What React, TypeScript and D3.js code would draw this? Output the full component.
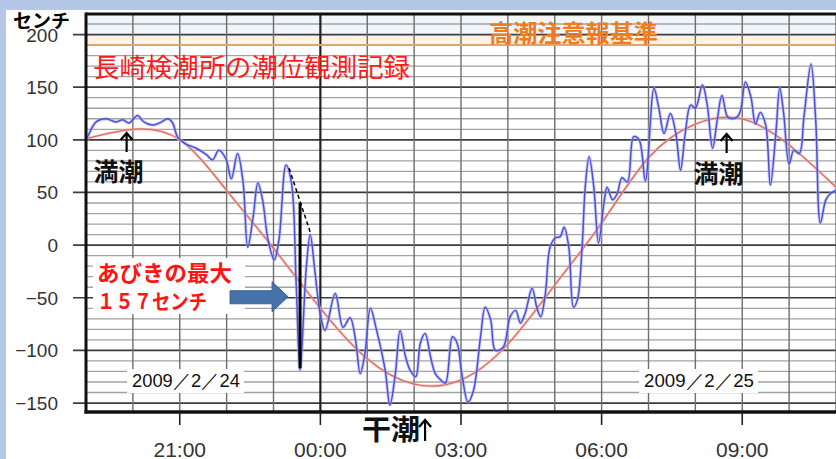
import React, { useEffect, useRef } from 'react';
import * as d3 from 'd3';

const WIDTH = 836;
const HEIGHT = 459;

const yTicks = [200, 150, 100, 50, 0, -50, -100, -150];
const xTickLabels = ['21:00', '00:00', '03:00', '06:00', '09:00'];
const warningLevel = 190;

// astronomical tide, hourly from 19:00 (2/24) to 11:00 (2/25)
const predictedTimes = [
  '19:00', '20:00', '21:00', '22:00', '23:00', '00:00', '01:00', '02:00', '03:00',
  '04:00', '05:00', '06:00', '07:00', '08:00', '09:00', '10:00', '11:00',
];
const predictedLevels = [101, 110, 100, 52, -3, -60, -108, -132, -128, -94, -38, 21, 83, 115, 120, 95, 55];

// observed tide level (cm)
const observed: [string, number][] = [
  ['19:00', 101], ['19:02', 103], ['19:13', 117], ['19:26', 120], ['19:38', 117], ['19:47', 119],
  ['19:55', 116], ['20:06', 123], ['20:14', 117], ['20:25', 114], ['20:34', 116], ['20:45', 120],
  ['20:51', 116], ['20:57', 103], ['21:08', 96], ['21:21', 92], ['21:34', 86], ['21:42', 81],
  ['21:50', 90], ['21:59', 82], ['22:06', 63], ['22:14', 87], ['22:21', 60], ['22:27', -2],
  ['22:34', 27], ['22:40', 59], ['22:46', 43], ['22:53', 5], ['23:01', -14], ['23:07', 5],
  ['23:16', 76], ['23:23', 59], ['23:29', -36], ['23:34', -119], ['23:42', -21], ['23:47', 10],
  ['23:53', -25], ['00:00', -66], ['00:06', -81], ['00:19', -46], ['00:29', -78], ['00:38', -69],
  ['00:45', -90], ['00:51', -122], ['00:57', -103], ['01:04', -60], ['01:12', -81], ['01:23', -119],
  ['01:29', -152], ['01:36', -122], ['01:42', -81], ['01:49', -106], ['01:55', -119], ['02:02', -125],
  ['02:08', -93], ['02:14', -84], ['02:21', -106], ['02:27', -122], ['02:34', -128], ['02:40', -131],
  ['02:49', -87], ['02:55', -93], ['03:01', -122], ['03:09', -149], ['03:16', -138], ['03:25', -87],
  ['03:31', -59], ['03:38', -71], ['03:44', -100], ['03:54', -97], ['04:03', -68], ['04:10', -62],
  ['04:16', -74], ['04:22', -65], ['04:31', -41], ['04:37', -59], ['04:42', -68], ['04:48', -46],
  ['04:54', -2], ['05:01', 7], ['05:07', 8], ['05:12', 17], ['05:18', -2], ['05:24', -59],
  ['05:29', -52], ['05:35', -2], ['05:39', 55], ['05:44', 84], ['05:50', 55], ['05:56', 2],
  ['06:03', 40], ['06:07', 55], ['06:14', 43], ['06:20', 49], ['06:26', 64], ['06:33', 60],
  ['06:41', 103], ['06:48', 100], ['06:56', 61], ['07:07', 149], ['07:13', 131], ['07:20', 106],
  ['07:28', 125], ['07:35', 106], ['07:41', 71], ['07:47', 106], ['07:54', 133], ['08:00', 130],
  ['08:09', 152], ['08:15', 134], ['08:22', 92], ['08:28', 119], ['08:34', 142], ['08:41', 122],
  ['08:47', 120], ['08:54', 122], ['08:58', 128], ['09:04', 155], ['09:11', 141], ['09:17', 115],
  ['09:23', 126], ['09:30', 114], ['09:36', 57], ['09:43', 106], ['09:48', 149], ['09:53', 125],
  ['10:00', 77], ['10:06', 90], ['10:13', 87], ['10:19', 122], ['10:28', 172], ['10:34', 119],
  ['10:40', 21], ['10:47', 43], ['10:53', 49], ['11:00', 52],
];

// maximum seiche (abiki) marker
const abikiTime = '23:34';
const abikiRange: [number, number] = [40, -117];
const abikiSlope: [string, number][] = [['23:20', 73], ['23:48', 10]];

const highTideTimes = ['19:52', '08:40'];
const lowTideTime = '02:14';

const parseClock = (s: string) => {
  const [h, m] = s.split(':').map(Number);
  return new Date(2009, 1, h >= 19 ? 24 : 25, h, m);
};

const JP = '"Noto Sans CJK JP", "Noto Sans", sans-serif';
const NUM = '"Liberation Sans", Arial, sans-serif';

const TideChart: React.FC = () => {
  const svgRef = useRef<SVGSVGElement>(null);

  useEffect(() => {
    if (!svgRef.current) return;
    const svg = d3.select(svgRef.current);
    svg.selectAll('*').remove();

    const plot = { left: 86, right: 836, top: 14, bottom: 412 };

    const x = d3.scaleTime()
      .domain([new Date(2009, 1, 24, 19), new Date(2009, 1, 25, 11)])
      .range([plot.left, plot.right]);
    const y = d3.scaleLinear().domain([-158.5, 219.5]).range([plot.bottom, plot.top]);

    // page frame
    svg.append('rect').attr('width', WIDTH).attr('height', HEIGHT).attr('fill', '#b4c7e7');
    svg.append('rect').attr('x', 6).attr('y', 10).attr('width', WIDTH).attr('height', HEIGHT).attr('fill', '#fff');

    // faint bands near the top
    svg.append('rect')
      .attr('x', plot.left).attr('y', plot.top)
      .attr('width', plot.right - plot.left).attr('height', y(200) - plot.top)
      .attr('fill', '#f1f6fb');
    svg.append('rect')
      .attr('x', plot.left).attr('y', y(200))
      .attr('width', plot.right - plot.left).attr('height', y(warningLevel) - y(200))
      .attr('fill', '#fcf2e6');

    // horizontal grid every 10 cm
    const levels = d3.range(-150, 220, 10);
    svg.append('g').selectAll('line')
      .data(levels)
      .enter().append('line')
      .attr('x1', d => (d % 50 === 0 ? plot.left - 13 : plot.left))
      .attr('x2', plot.right)
      .attr('y1', d => y(d)).attr('y2', d => y(d))
      .attr('stroke', d => (d % 50 === 0 ? '#3c3c3c' : '#a2a2a2'))
      .attr('stroke-width', d => (d % 50 === 0 ? 1.7 : 1.3));

    // vertical grid every hour
    const hours = x.ticks(d3.timeHour.every(1) as any);
    svg.append('g').selectAll('line')
      .data(hours)
      .enter().append('line')
      .attr('x1', d => x(d)).attr('x2', d => x(d))
      .attr('y1', plot.top).attr('y2', plot.bottom)
      .attr('stroke', d => (d.getHours() === 0 ? '#222' : '#6e6e6e'))
      .attr('stroke-width', d => (d.getHours() === 0 ? 2.2 : 1.4));

    // warning level line
    svg.append('line')
      .attr('x1', plot.left).attr('x2', plot.right)
      .attr('y1', y(warningLevel)).attr('y2', y(warningLevel))
      .attr('stroke', '#e3a56e').attr('stroke-width', 2);

    svg.append('defs').append('clipPath').attr('id', 'plot-clip')
      .append('rect')
      .attr('x', plot.left).attr('y', plot.top)
      .attr('width', plot.right - plot.left).attr('height', plot.bottom - plot.top);

    const lines = svg.append('g').attr('clip-path', 'url(#plot-clip)');

    const predicted = predictedTimes.map((t, i) => ({ t: parseClock(t), v: predictedLevels[i] }));
    const predictedLine = d3.line<{ t: Date; v: number }>()
      .x(d => x(d.t)).y(d => y(d.v))
      .curve(d3.curveNatural);

    const obs = observed.map(([t, v]) => ({ t: parseClock(t), v }));
    const observedLine = d3.line<{ t: Date; v: number }>()
      .x(d => x(d.t)).y(d => y(d.v))
      .curve(d3.curveCatmullRom.alpha(0.5));

    lines.append('path').datum(predicted)
      .attr('fill', 'none').attr('stroke', '#f3b7ad').attr('stroke-width', 3).attr('opacity', 0.6)
      .attr('d', predictedLine);
    lines.append('path').datum(predicted)
      .attr('fill', 'none').attr('stroke', '#dc6a60').attr('stroke-width', 1.3)
      .attr('d', predictedLine);

    lines.append('path').datum(obs)
      .attr('fill', 'none').attr('stroke', '#a9aef0').attr('stroke-width', 3.4).attr('opacity', 0.55)
      .attr('d', observedLine);
    lines.append('path').datum(obs)
      .attr('fill', 'none').attr('stroke', '#4d4fd8').attr('stroke-width', 1.5)
      .attr('d', observedLine);

    // abiki range marker
    const ax = x(parseClock(abikiTime));
    svg.append('line')
      .attr('x1', ax).attr('x2', ax)
      .attr('y1', y(abikiRange[0])).attr('y2', y(abikiRange[1]))
      .attr('stroke', '#000').attr('stroke-width', 3);
    svg.append('line')
      .attr('x1', x(parseClock(abikiSlope[0][0]))).attr('y1', y(abikiSlope[0][1]))
      .attr('x2', x(parseClock(abikiSlope[1][0]))).attr('y2', y(abikiSlope[1][1]))
      .attr('stroke', '#000').attr('stroke-width', 1.5).attr('stroke-dasharray', '4,3');

    // frame of the plot
    svg.append('line').attr('x1', plot.left).attr('x2', plot.right)
      .attr('y1', plot.top).attr('y2', plot.top).attr('stroke', '#111').attr('stroke-width', 3);
    svg.append('line').attr('x1', plot.left).attr('x2', plot.left)
      .attr('y1', plot.top - 1.5).attr('y2', plot.bottom + 1.5).attr('stroke', '#111').attr('stroke-width', 3);
    svg.append('line').attr('x1', plot.left - 1.5).attr('x2', plot.right)
      .attr('y1', plot.bottom).attr('y2', plot.bottom).attr('stroke', '#111').attr('stroke-width', 3.5);

    // y labels
    svg.append('g').selectAll('text')
      .data(yTicks)
      .enter().append('text')
      .attr('x', 58).attr('y', d => y(d) + 7)
      .attr('text-anchor', 'end')
      .style('font-family', NUM).style('font-size', '19px').style('fill', '#333')
      .text(d => (d < 0 ? `\u2212${Math.abs(d)}` : `${d}`));

    // x ticks and labels
    const xTicks = xTickLabels.map(parseClock);
    svg.append('g').selectAll('line')
      .data(xTicks)
      .enter().append('line')
      .attr('x1', d => x(d)).attr('x2', d => x(d))
      .attr('y1', plot.bottom).attr('y2', plot.bottom + 13)
      .attr('stroke', '#222').attr('stroke-width', 1.6);
    svg.append('g').selectAll('text')
      .data(xTickLabels)
      .enter().append('text')
      .attr('x', d => x(parseClock(d))).attr('y', 457)
      .attr('text-anchor', 'middle')
      .style('font-family', NUM).style('font-size', '21px').style('fill', '#333')
      .text(d => d);

    // unit label
    svg.append('text').attr('x', 13).attr('y', 28)
      .style('font-family', JP).style('font-size', '19px').style('font-weight', 'bold').style('fill', '#000')
      .attr('textLength', 57).attr('lengthAdjust', 'spacingAndGlyphs')
      .text('センチ');

    // titles
    svg.append('text').attr('x', 93).attr('y', 77)
      .style('font-family', JP).style('font-size', '26px').style('fill', '#ff1a1a')
      .attr('textLength', 317).attr('lengthAdjust', 'spacingAndGlyphs')
      .text('長崎検潮所の潮位観測記録');
    svg.append('text').attr('x', 489).attr('y', 42)
      .style('font-family', JP).style('font-size', '24px').style('font-weight', 'bold').style('fill', '#f07c22')
      .attr('textLength', 169).attr('lengthAdjust', 'spacingAndGlyphs')
      .text('高潮注意報基準');

    // high / low tide arrows
    const upArrow = (cx: number, yTop: number, yBottom: number) => {
      svg.append('line').attr('x1', cx).attr('x2', cx).attr('y1', yTop + 1).attr('y2', yBottom)
        .attr('stroke', '#000').attr('stroke-width', 2.2);
      svg.append('path')
        .attr('d', `M${cx - 6},${yTop + 7}L${cx},${yTop}L${cx + 6},${yTop + 7}`)
        .attr('fill', 'none').attr('stroke', '#000').attr('stroke-width', 2.2);
    };
    const tideLabel = (cx: number, baseline: number, size: number, label: string) => {
      svg.append('text').attr('x', cx).attr('y', baseline).attr('text-anchor', 'middle')
        .style('font-family', JP).style('font-size', `${size}px`).style('font-weight', 'bold').style('fill', '#111')
        .text(label);
    };

    const hx0 = x(parseClock(highTideTimes[0]));
    upArrow(hx0, 133, 152);
    tideLabel(hx0 - 8, 181, 25, '満潮');
    const hx1 = x(parseClock(highTideTimes[1]));
    upArrow(hx1, 134, 153);
    tideLabel(hx1 - 8, 183, 25, '満潮');
    const lx = x(parseClock(lowTideTime));
    upArrow(lx, 420, 441);
    svg.append('text').attr('x', 362).attr('y', 440)
      .style('font-family', JP).style('font-size', '28px').style('font-weight', 'bold').style('fill', '#111')
      .attr('textLength', 58).attr('lengthAdjust', 'spacingAndGlyphs')
      .text('干潮');

    // abiki note
    svg.append('rect').attr('x', 93).attr('y', 258).attr('width', 152).attr('height', 56).attr('fill', '#fff');
    svg.append('text').attr('x', 97).attr('y', 281)
      .style('font-family', JP).style('font-size', '22px').style('font-weight', 'bold').style('fill', '#ff1414')
      .attr('textLength', 135).attr('lengthAdjust', 'spacingAndGlyphs')
      .text('あびきの最大');
    svg.append('text').attr('x', 97).attr('y', 309)
      .style('font-family', JP).style('font-size', '21px').style('font-weight', 'bold').style('fill', '#ff1414')
      .attr('textLength', 110).attr('lengthAdjust', 'spacingAndGlyphs')
      .text('１５７センチ');

    // block arrow toward the abiki drop
    const tipX = ax - 12;
    const tipY = y(-50) - 1;
    svg.append('path')
      .attr('d', `M${tipX - 58},${tipY - 6}L${tipX - 16},${tipY - 6}L${tipX - 16},${tipY - 15}L${tipX},${tipY}` +
        `L${tipX - 16},${tipY + 15}L${tipX - 16},${tipY + 7}L${tipX - 58},${tipY + 7}Z`)
      .attr('fill', '#4572a9').attr('stroke', '#39608f').attr('stroke-width', 1);

    // date labels
    const dateLabel = (x0: number, w: number, label: string) => {
      svg.append('rect').attr('x', x0).attr('y', 369).attr('width', w).attr('height', 24).attr('fill', '#fff');
      svg.append('text').attr('x', x0 + 5).attr('y', 387)
        .style('font-family', `${NUM}`).style('font-size', '19px').style('fill', '#111')
        .attr('textLength', w - 9).attr('lengthAdjust', 'spacingAndGlyphs')
        .text(label);
    };
    dateLabel(127, 117, '2009／2／24');
    dateLabel(639, 119, '2009／2／25');
  }, []);

  return (
    <svg
      ref={svgRef}
      width={WIDTH}
      height={HEIGHT}
      style={{ position: 'absolute', left: 0, top: 0 }}
    />
  );
};

export default function App() {
  return <TideChart />;
}
